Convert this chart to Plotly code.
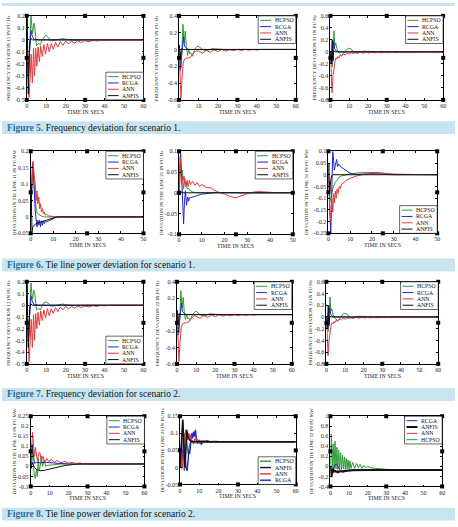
import plotly.graph_objects as go

# ---------------- DATA ----------------
NAMES = ["HCPSO", "RCGA", "ANN", "ANFIS"]

P1_HCPSO_T = [0, 0.5, 1.0, 1.5, 2.2, 2.6, 3.0, 3.7, 4.2, 5.0, 6.0, 7.0, 8.0, 9.8, 11.0, 12.7, 15.0, 18.6, 22.0, 25.0, 30.0, 60.0]
P1_HCPSO_Y = [0, -0.15, -0.3, -0.05, 0.2, 0.12, 0.05, 0.14, 0.1, -0.05, -0.03, -0.04, 0.0, 0.04, 0.02, -0.01, 0.0, 0.01, 0.0, -0.003, 0.0, 0.0]
P1_RCGA_T = [0, 0.4, 0.85, 1.4, 2.2, 2.7, 3.2, 3.8, 4.5, 6.0, 60.0]
P1_RCGA_Y = [0, -0.2, -0.33, -0.1, 0.08, 0.04, 0.02, 0.0, 0.005, 0.0, 0.0]
P1_ANN_T = [0, 0.6, 1.2, 1.8, 2.3, 2.9, 3.5, 4.0, 4.6, 5.2, 5.8, 6.5, 7.2, 8.0, 8.8, 9.7, 10.6, 11.6, 12.6, 13.7, 14.8, 16.0, 17.3, 18.6, 20.0, 21.5, 23.0, 24.6, 26.2, 28.0, 30.0, 32.0, 34.0, 36.0, 38.0, 40.0, 43.0, 60.0]
P1_ANN_Y = [0, -0.3, -0.48, -0.3, -0.12, -0.36, -0.07, -0.3, -0.07, -0.22, -0.06, -0.18, -0.05, -0.14, -0.04, -0.12, -0.03, -0.1, -0.03, -0.08, -0.02, -0.06, -0.015, -0.045, -0.01, -0.035, -0.01, -0.028, -0.008, -0.022, -0.006, -0.016, -0.004, -0.01, -0.002, -0.005, 0.0, 0.0]
P1_ANFIS_T = [0, 0.25, 0.5, 0.8, 1.2, 1.6, 2.2, 3.0, 60.0]
P1_ANFIS_Y = [0, 0.18, -0.1, -0.45, -0.2, -0.02, 0.01, 0.0, 0.0]

P2_HCPSO_T = [0, 0.5, 1.0, 1.5, 2.0, 2.6, 3.2, 3.8, 4.4, 5.0, 5.5, 6.0, 7.0, 8.0, 9.0, 9.9, 11.0, 12.0, 13.5, 15.0, 17.0, 19.0, 22.0, 25.0, 30.0, 60.0]
P2_HCPSO_Y = [0, -0.1, -0.22, 0.0, 0.3, 0.08, 0.22, 0.02, -0.07, 0.0, -0.05, -0.04, -0.08, 0.0, 0.03, 0.04, 0.02, 0.0, -0.015, -0.01, 0.01, 0.005, 0.0, -0.005, 0.0, 0.0]
P2_RCGA_T = [0, 0.3, 0.6, 1.2, 1.8, 2.3, 2.8, 3.4, 4.0, 5.0, 60.0]
P2_RCGA_Y = [0, -0.15, -0.25, -0.1, 0.1, 0.15, 0.04, 0.02, 0.01, 0.0, 0.0]
P2_ANN_T = [0, 0.4, 1.0, 1.5, 2.2, 3.0, 4.0, 5.0, 6.0, 7.0, 8.0, 9.0, 10.0, 12.0, 14.0, 16.0, 18.0, 20.0, 22.0, 24.0, 26.0, 28.0, 30.0, 32.0, 34.0, 36.0, 38.0, 40.0, 42.0, 44.0, 46.0, 60.0]
P2_ANN_Y = [0, -0.3, -0.58, -0.35, -0.15, -0.11, -0.1, -0.1, -0.09, -0.05, -0.03, -0.015, -0.02, -0.045, -0.01, -0.035, -0.005, -0.025, 0.0, -0.02, 0.0, -0.015, 0.0, -0.012, 0.0, -0.008, 0.0, -0.006, 0.0, -0.004, 0.0, 0.0]
P2_ANFIS_T = [0, 0.2, 0.5, 0.8, 1.2, 2.0, 60.0]
P2_ANFIS_Y = [0, 0.05, -0.1, -0.04, 0.01, 0.0, 0.0]

P3_HCPSO_T = [0, 0.5, 1.0, 1.5, 1.9, 2.4, 2.9, 3.5, 4.0, 5.0, 6.0, 7.0, 8.0, 9.0, 9.7, 11.0, 12.0, 13.0, 15.0, 17.0, 19.0, 22.0, 25.0, 60.0]
P3_HCPSO_Y = [0, -0.1, -0.25, 0.05, 0.35, 0.1, 0.15, 0.05, 0.0, -0.03, -0.06, -0.02, 0.02, 0.05, 0.06, 0.05, 0.01, -0.02, -0.01, 0.01, 0.01, 0.0, 0.0, 0.0]
P3_RCGA_T = [0, 0.4, 0.8, 1.3, 1.8, 2.3, 3.0, 3.5, 4.0, 5.0, 60.0]
P3_RCGA_Y = [0, -0.1, -0.2, 0.0, 0.17, 0.05, 0.02, 0.0, 0.01, 0.0, 0.0]
P3_ANN_T = [0, 0.4, 0.9, 1.4, 2.0, 2.5, 3.0, 3.5, 4.0, 4.5, 5.0, 6.0, 7.0, 8.0, 9.0, 10.0, 11.0, 12.0, 13.0, 14.5, 16.0, 17.5, 19.0, 20.5, 22.0, 23.5, 25.0, 27.0, 29.0, 31.0, 33.0, 35.0, 37.0, 39.0, 41.0, 43.0, 45.0, 47.0, 49.0, 51.0, 53.0, 55.0, 57.0, 60.0]
P3_ANN_Y = [0, -0.35, -0.68, -0.4, -0.2, -0.15, -0.1, -0.12, -0.08, -0.1, -0.06, -0.07, -0.04, -0.05, -0.02, -0.04, -0.01, -0.03, -0.005, -0.025, -0.005, -0.022, -0.004, -0.02, -0.004, -0.018, -0.003, -0.016, -0.003, -0.014, -0.002, -0.012, -0.002, -0.01, -0.002, -0.009, -0.001, -0.008, -0.001, -0.007, -0.001, -0.006, -0.001, -0.003]
P3_ANFIS_T = [0, 0.3, 0.6, 1.0, 1.4, 1.8, 2.5, 60.0]
P3_ANFIS_Y = [0, -0.2, -0.05, 0.2, -0.15, 0.02, 0.0, 0.0]

P4_HCPSO_T = [0, 0.3, 0.7, 1.0, 1.5, 2.0, 2.5, 3.0, 4.0, 5.0, 6.0, 50.0]
P4_HCPSO_Y = [0, 0.05, 0.14, 0.165, 0.1, 0.05, 0.02, 0.01, 0.005, 0.002, 0.0, 0.0]
P4_RCGA_T = [0, 0.4, 0.8, 1.2, 1.6, 2.0, 2.4, 2.8, 3.2, 3.6, 4.0, 4.4, 4.8, 5.2, 5.6, 6.0, 6.5, 7.0, 8.0, 9.0, 10.0, 11.0, 12.0, 50.0]
P4_RCGA_Y = [0, 0.08, 0.165, 0.14, 0.07, 0.02, -0.005, -0.03, -0.01, -0.025, -0.01, -0.03, -0.012, -0.025, -0.012, -0.02, -0.012, -0.015, -0.012, -0.008, -0.005, -0.002, 0.0, 0.0]
P4_ANN_T = [0, 0.5, 1.0, 1.5, 2.0, 2.4, 2.8, 3.2, 3.6, 4.0, 4.4, 4.8, 5.2, 5.6, 6.0, 6.5, 7.0, 8.0, 9.0, 10.0, 12.0, 50.0]
P4_ANN_Y = [0, 0.1, 0.17, 0.13, 0.1, 0.05, 0.08, 0.04, 0.06, 0.025, 0.04, 0.015, 0.025, 0.01, 0.015, 0.005, 0.008, 0.003, 0.002, 0.0, 0.0, 0.0]
P4_ANFIS_T = [0, 0.2, 0.4, 0.6, 1.0, 2.0, 4.0, 6.0, 8.0, 10.0, 12.0, 50.0]
P4_ANFIS_Y = [0.0, 0.1, 0.02, -0.045, -0.03, -0.022, -0.017, -0.012, -0.007, -0.003, 0.0, 0.0]

P5_HCPSO_T = [0, 0.3, 0.6, 1.0, 1.4, 1.8, 2.2, 2.6, 3.0, 3.5, 4.0, 5.0, 6.0, 8.0, 50.0]
P5_HCPSO_Y = [0, 0.05, 0.09, 0.04, 0.055, 0.03, 0.04, 0.02, 0.025, 0.01, 0.012, 0.005, 0.002, 0.0, 0.0]
P5_RCGA_T = [0, 0.4, 0.7, 1.2, 1.6, 2.0, 2.4, 2.8, 3.3, 3.8, 4.2, 4.6, 5.0, 6.0, 7.0, 8.0, 10.0, 12.0, 14.0, 16.0, 28.0, 50.0]
P5_RCGA_Y = [0, 0.06, 0.095, 0.03, -0.02, -0.075, -0.02, 0.005, -0.03, -0.01, -0.02, -0.012, -0.012, -0.01, -0.008, -0.006, -0.003, -0.002, 0.0, 0.001, 0.0, 0.0]
P5_ANN_T = [0, 0.5, 1.0, 1.5, 2.0, 2.5, 3.0, 3.5, 4.0, 4.5, 5.0, 6.0, 7.0, 8.0, 9.0, 10.0, 12.0, 14.0, 15.0, 17.0, 20.0, 22.0, 25.0, 27.0, 30.0, 33.0, 35.0, 38.0, 40.0, 43.0]
P5_ANN_Y = [0, 0.085, 0.02, 0.04, 0.01, 0.035, 0.015, 0.03, 0.015, 0.03, 0.02, 0.028, 0.018, 0.025, 0.015, 0.02, 0.013, 0.012, 0.008, 0.002, -0.003, -0.008, -0.012, -0.008, -0.002, 0.002, 0.003, 0.002, 0.001, 0.0]
P5_ANFIS_T = [0, 0.3, 0.8, 1.5, 50.0]
P5_ANFIS_Y = [0, -0.005, 0.003, 0.0, 0.0]

P6_HCPSO_T = [0, 0.3, 0.6, 1.0, 1.5, 2.0, 3.0, 4.0, 5.0, 6.0, 8.0, 10.0, 14.0, 18.0, 22.0, 26.0, 30.0, 50.0]
P6_HCPSO_Y = [0, -0.06, -0.12, -0.1, -0.08, -0.06, -0.035, -0.02, -0.01, -0.005, 0.0, 0.003, 0.008, 0.01, 0.01, 0.005, 0.002, 0.0]
P6_RCGA_T = [0, 0.4, 0.8, 1.1, 1.6, 2.0, 2.4, 2.7, 3.2, 3.8, 4.2, 4.8, 5.5, 6.5, 7.5, 8.5, 9.5, 11.0, 13.0, 15.0, 20.0, 25.0, 30.0, 50.0]
P6_RCGA_Y = [0, -0.1, -0.2, -0.25, -0.05, 0.1, 0.06, 0.02, 0.04, 0.065, 0.035, 0.045, 0.035, 0.028, 0.02, 0.014, 0.009, 0.004, 0.001, 0.002, 0.005, 0.003, 0.0, 0.0]
P6_ANN_T = [0, 0.4, 0.9, 1.2, 1.6, 2.0, 2.4, 2.8, 3.2, 3.6, 4.0, 4.5, 5.0, 5.5, 6.0, 7.0, 8.0, 9.0, 10.0, 12.0, 14.0, 16.0, 18.0, 20.0, 22.0, 25.0, 28.0, 30.0, 50.0]
P6_ANN_Y = [0, -0.1, -0.2, -0.17, -0.1, -0.16, -0.08, -0.12, -0.07, -0.1, -0.06, -0.08, -0.05, -0.06, -0.04, -0.035, -0.025, -0.02, -0.015, -0.008, -0.003, 0.002, 0.006, 0.009, 0.009, 0.007, 0.004, 0.002, 0.0]
P6_ANFIS_T = [0, 0.2, 0.4, 0.7, 1.0, 1.5, 2.0, 50.0]
P6_ANFIS_Y = [0, 0.05, -0.02, -0.07, -0.03, -0.005, 0.0, 0.0]

P7_HCPSO_T = [0, 0.5, 1.0, 1.5, 2.2, 2.6, 3.0, 3.6, 4.2, 5.0, 6.0, 7.0, 8.0, 9.4, 11.0, 12.7, 15.0, 18.5, 22.0, 25.0, 30.0, 60.0]
P7_HCPSO_Y = [0, -0.15, -0.32, -0.05, 0.19, 0.1, 0.05, 0.13, 0.09, -0.04, -0.03, -0.04, 0.0, 0.03, 0.02, -0.01, 0.0, 0.01, 0.0, -0.003, 0.0, 0.0]
P7_RCGA_T = [0, 0.4, 0.85, 1.4, 2.2, 2.7, 3.2, 3.8, 4.5, 6.0, 60.0]
P7_RCGA_Y = [0, -0.2, -0.3, -0.1, 0.08, 0.04, 0.02, 0.0, 0.005, 0.0, 0.0]
P7_ANN_T = [0, 0.6, 1.2, 1.8, 2.3, 2.9, 3.5, 4.0, 4.6, 5.2, 5.8, 6.5, 7.2, 8.0, 8.8, 9.7, 10.6, 11.6, 12.6, 13.7, 14.8, 16.0, 17.3, 18.6, 20.0, 21.5, 23.0, 24.6, 26.2, 28.0, 30.0, 32.0, 34.0, 36.0, 38.0, 40.0, 43.0, 60.0]
P7_ANN_Y = [0, -0.3, -0.48, -0.3, -0.12, -0.36, -0.08, -0.3, -0.07, -0.2, -0.06, -0.17, -0.05, -0.13, -0.04, -0.11, -0.03, -0.09, -0.03, -0.07, -0.02, -0.055, -0.015, -0.04, -0.01, -0.03, -0.01, -0.025, -0.008, -0.02, -0.006, -0.015, -0.004, -0.01, -0.002, -0.005, 0.0, 0.0]
P7_ANFIS_T = [0, 0.25, 0.5, 0.8, 1.2, 1.6, 2.2, 3.0, 60.0]
P7_ANFIS_Y = [0, 0.18, -0.1, -0.36, -0.2, -0.02, 0.01, 0.0, 0.0]

P8_HCPSO_T = [0, 0.5, 1.0, 1.5, 2.0, 2.6, 3.2, 3.8, 4.4, 5.0, 5.5, 6.0, 7.0, 8.0, 9.0, 9.9, 11.0, 12.0, 13.5, 15.0, 17.0, 19.0, 22.0, 25.0, 30.0, 60.0]
P8_HCPSO_Y = [0, -0.1, -0.22, 0.0, 0.29, 0.08, 0.21, 0.02, -0.06, 0.0, -0.05, -0.04, -0.07, 0.0, 0.03, 0.045, 0.02, 0.0, -0.015, -0.01, 0.01, 0.005, 0.0, -0.005, 0.0, 0.0]
P8_RCGA_T = [0, 0.3, 0.6, 1.2, 1.8, 2.3, 2.8, 3.4, 4.0, 5.0, 60.0]
P8_RCGA_Y = [0, -0.15, -0.25, -0.1, 0.1, 0.14, 0.04, 0.02, 0.01, 0.0, 0.0]
P8_ANN_T = [0, 0.4, 1.0, 1.5, 2.2, 3.0, 4.0, 5.0, 6.0, 7.0, 8.0, 9.0, 10.0, 12.0, 14.0, 16.0, 18.0, 20.0, 22.0, 24.0, 26.0, 28.0, 30.0, 32.0, 34.0, 36.0, 38.0, 40.0, 42.0, 44.0, 46.0, 60.0]
P8_ANN_Y = [0, -0.3, -0.57, -0.35, -0.15, -0.11, -0.1, -0.1, -0.09, -0.05, -0.03, -0.015, -0.02, -0.045, -0.01, -0.035, -0.005, -0.025, 0.0, -0.02, 0.0, -0.015, 0.0, -0.012, 0.0, -0.008, 0.0, -0.006, 0.0, -0.004, 0.0, 0.0]
P8_ANFIS_T = [0, 0.2, 0.5, 0.8, 1.2, 2.0, 60.0]
P8_ANFIS_Y = [0, 0.05, -0.1, -0.04, 0.01, 0.0, 0.0]

P9_HCPSO_T = [0, 0.5, 1.0, 1.5, 1.9, 2.4, 2.9, 3.5, 4.0, 5.0, 6.0, 7.0, 8.0, 9.0, 9.7, 11.0, 12.0, 13.0, 15.0, 17.0, 19.0, 22.0, 25.0, 60.0]
P9_HCPSO_Y = [0, -0.1, -0.25, 0.05, 0.34, 0.1, 0.14, 0.05, 0.0, -0.03, -0.07, -0.03, 0.02, 0.05, 0.06, 0.05, 0.01, -0.02, -0.01, 0.01, 0.01, 0.0, 0.0, 0.0]
P9_RCGA_T = [0, 0.4, 0.8, 1.3, 1.8, 2.3, 3.0, 3.5, 4.0, 5.0, 60.0]
P9_RCGA_Y = [0, -0.1, -0.2, 0.0, 0.16, 0.05, 0.02, 0.0, 0.01, 0.0, 0.0]
P9_ANN_T = [0, 0.4, 0.9, 1.4, 2.0, 2.5, 3.0, 3.5, 4.0, 4.5, 5.0, 6.0, 7.0, 8.0, 9.0, 10.0, 11.0, 12.0, 13.0, 14.5, 16.0, 17.5, 19.0, 20.5, 22.0, 23.5, 25.0, 27.0, 29.0, 31.0, 33.0, 35.0, 37.0, 39.0, 41.0, 43.0, 45.0, 47.0, 49.0, 51.0, 53.0, 55.0, 57.0, 60.0]
P9_ANN_Y = [0, -0.35, -0.66, -0.4, -0.2, -0.15, -0.1, -0.12, -0.08, -0.1, -0.06, -0.07, -0.04, -0.05, -0.02, -0.04, -0.01, -0.03, -0.005, -0.025, -0.005, -0.022, -0.004, -0.02, -0.004, -0.018, -0.003, -0.016, -0.003, -0.014, -0.002, -0.012, -0.002, -0.01, -0.002, -0.009, -0.001, -0.008, -0.001, -0.007, -0.001, -0.006, -0.001, -0.003]
P9_ANFIS_T = [0, 0.3, 0.6, 1.0, 1.4, 1.8, 2.5, 60.0]
P9_ANFIS_Y = [0, -0.2, -0.05, 0.2, -0.15, 0.02, 0.0, 0.0]

P10_HCPSO_T = [0, 0.3, 0.7, 1.0, 1.5, 2.0, 2.5, 3.0, 3.5, 4.0, 4.5, 5.0, 5.7, 6.3, 7.0, 8.0, 9.0, 10.0, 12.0, 14.0, 16.0, 20.0, 60.0]
P10_HCPSO_Y = [0, 0.05, 0.11, 0.05, -0.02, -0.05, -0.06, -0.02, -0.05, 0.04, -0.02, 0.0, 0.05, 0.0, 0.03, 0.0, 0.005, 0.005, 0.008, 0.01, 0.012, 0.012, 0.012]
P10_RCGA_T = [0, 0.3, 0.8, 1.1, 1.5, 2.0, 3.0, 5.0, 8.0, 12.0, 16.0, 20.0, 60.0]
P10_RCGA_Y = [0, 0.05, 0.11, 0.08, 0.03, 0.015, 0.02, 0.018, 0.02, 0.016, 0.014, 0.012, 0.012]
P10_ANN_T = [0, 0.5, 1.0, 1.5, 2.0, 2.5, 3.0, 3.5, 4.5, 5.0, 5.5, 6.5, 7.5, 8.5, 9.5, 11.0, 12.5, 14.0, 16.0, 18.0, 20.0, 22.0, 24.0, 26.0, 28.0, 30.0, 60.0]
P10_ANN_Y = [0, 0.1, 0.17, 0.1, 0.05, 0.095, 0.05, 0.03, 0.07, 0.065, 0.025, 0.05, 0.02, 0.04, 0.025, 0.035, 0.02, 0.03, 0.018, 0.025, 0.016, 0.02, 0.014, 0.017, 0.013, 0.013, 0.012]
P10_ANFIS_T = [0, 0.3, 0.7, 1.2, 2.0, 3.0, 5.0, 7.0, 9.0, 12.0, 15.0, 18.0, 22.0, 26.0, 60.0]
P10_ANFIS_Y = [0, -0.01, 0.02, 0.01, -0.005, -0.015, -0.022, -0.02, -0.015, -0.008, -0.002, 0.004, 0.009, 0.012, 0.012]

P11_HCPSO_T = [0, 0.5, 1.0, 1.3, 2.2, 2.7, 3.2, 3.7, 4.2, 5.0, 6.0, 7.0, 8.0, 9.0, 10.0, 12.0, 14.0, 16.0, 20.0, 60.0]
P11_HCPSO_Y = [0, 0.05, 0.1, 0.14, -0.01, 0.02, 0.09, 0.06, 0.04, 0.065, 0.08, 0.07, 0.075, 0.08, 0.072, 0.078, 0.074, 0.076, 0.075, 0.075]
P11_RCGA_T = [0, 0.5, 1.0, 1.5, 2.0, 2.5, 3.0, 3.7, 4.2, 4.6, 5.0, 5.5, 6.0, 6.5, 7.0, 7.5, 8.0, 8.5, 9.0, 10.0, 11.0, 12.0, 14.0, 16.0, 18.0, 20.0, 60.0]
P11_RCGA_Y = [0, 0.04, 0.0, 0.06, 0.1, 0.06, 0.0, -0.01, 0.02, 0.05, 0.04, 0.08, 0.1, 0.085, 0.105, 0.09, 0.11, 0.08, 0.07, 0.08, 0.068, 0.075, 0.078, 0.074, 0.076, 0.075, 0.075]
P11_ANN_T = [0, 0.5, 1.0, 1.5, 2.0, 2.5, 3.0, 3.5, 4.0, 4.5, 5.0, 5.5, 6.0, 7.0, 8.0, 9.0, 10.0, 11.0, 12.0, 14.0, 16.0, 60.0]
P11_ANN_Y = [0, 0.05, -0.005, 0.03, 0.07, 0.09, 0.11, 0.09, 0.08, 0.1, 0.085, 0.095, 0.08, 0.075, 0.085, 0.08, 0.072, 0.078, 0.074, 0.076, 0.075, 0.075]
P11_ANFIS_T = [0, 0.5, 1.0, 1.5, 2.0, 2.5, 3.0, 3.5, 4.0, 5.0, 6.0, 8.0, 10.0, 60.0]
P11_ANFIS_Y = [0, 0.06, 0.1, 0.14, 0.06, 0.0, 0.05, 0.11, 0.09, 0.08, 0.075, 0.076, 0.075, 0.075]

P12_HCPSO_T = [0, 0.5, 1.0, 1.5, 2.0, 2.5, 3.0, 3.5, 4.0, 4.5, 5.0, 5.5, 6.0, 6.5, 7.0, 7.5, 8.0, 8.5, 9.0, 9.5, 10.0, 10.5, 11.0, 12.0, 13.0, 14.0, 15.0, 16.0, 17.0, 18.0, 19.0, 20.0, 22.0, 24.0, 26.0, 28.0, 30.0, 35.0, 40.0, 60.0]
P12_HCPSO_Y = [0, 0.65, -0.05, 0.45, -0.05, 0.5, -0.05, 0.38, -0.06, 0.32, -0.05, 0.27, -0.06, 0.22, -0.05, 0.19, -0.06, 0.16, -0.05, 0.13, -0.05, 0.11, -0.04, 0.08, -0.04, 0.06, -0.03, 0.04, -0.04, 0.02, -0.03, 0.0, -0.03, -0.04, -0.05, -0.055, -0.06, -0.065, -0.07, -0.07]
P12_RCGA_T = [0, 0.5, 1.0, 1.5, 2.0, 2.5, 3.2, 3.8, 4.5, 5.5, 6.7, 7.5, 8.5, 9.5, 11.0, 13.0, 16.0, 60.0]
P12_RCGA_Y = [0, -0.12, -0.1, -0.05, 0.0, 0.03, 0.05, 0.02, -0.03, -0.09, -0.12, -0.11, -0.09, -0.08, -0.07, -0.07, -0.07, -0.07]
P12_ANN_T = [0, 0.4, 0.8, 1.2, 1.6, 2.0, 3.0, 4.0, 5.0, 6.0, 8.0, 10.0, 15.0, 20.0, 60.0]
P12_ANN_Y = [0, -0.15, -0.22, -0.15, -0.1, -0.12, -0.1, -0.08, -0.1, -0.09, -0.08, -0.075, -0.07, -0.07, -0.07]
P12_ANFIS_T = [0, 0.3, 0.6, 1.0, 1.5, 2.0, 3.0, 4.0, 5.0, 7.0, 9.0, 12.0, 20.0, 60.0]
P12_ANFIS_Y = [0, -0.15, -0.2, -0.05, -0.12, -0.08, -0.1, -0.12, -0.1, -0.09, -0.08, -0.075, -0.07, -0.07]

X_TICKS_60 = [0, 10, 20, 30, 40, 50, 60]
X_TICKS_50 = [0, 10, 20, 30, 40, 50]
Y_TICKS = [
    [-0.5, -0.4, -0.3, -0.2, -0.1, 0, 0.1, 0.2],
    [-0.6, -0.4, -0.2, 0, 0.2, 0.4],
    [-0.8, -0.6, -0.4, -0.2, 0, 0.2, 0.4, 0.6],
    [-0.05, 0, 0.05, 0.1, 0.15, 0.2],
    [-0.1, -0.05, 0, 0.05, 0.1],
    [-0.25, -0.2, -0.15, -0.1, -0.05, 0, 0.05, 0.1],
    [-0.5, -0.4, -0.3, -0.2, -0.1, 0, 0.1, 0.2],
    [-0.6, -0.4, -0.2, 0, 0.2, 0.4],
    [-0.8, -0.6, -0.4, -0.2, 0, 0.2, 0.4, 0.6],
    [-0.1, -0.05, 0, 0.05, 0.1, 0.15, 0.2, 0.25],
    [-0.05, 0, 0.05, 0.1, 0.15],
    [-0.4, -0.2, 0, 0.2, 0.4, 0.6, 0.8, 1],
]
X_TICKS = [X_TICKS_60, X_TICKS_60, X_TICKS_60, X_TICKS_50, X_TICKS_50, X_TICKS_50,
           X_TICKS_60, X_TICKS_60, X_TICKS_60, X_TICKS_60, X_TICKS_60, X_TICKS_60]
Y_TITLES = [
    "FREQUENCY DEVIATION 11 IN PU Hz", "FREQUENCY DEVIATION 21 IN PU Hz", "FREQUENCY DEVIATION 31 IN PU Hz",
    "DEVIATION IN TIE LINE 11 IN PU MW", "DEVIATION IN THE LINE 21 IN PU Hz", "DEVIATION IN TIE LINE 31 IN PU MW",
    "FREQUENCY DEVIATION 12 IN PU Hz", "FREQUENCY DEVIATION 22 IN PU Hz", "FREQUENCY DEVIATION 32 IN PU Hz",
    "DEVIATION IN TIE LINE 12 IN PU MW", "DEVIATION IN THE LINE 22 IN PU Hz", "DEVIATION IN TIE LINE 32 IN PU MW",
]
X_TITLE = "TIME IN SECS"
LEGEND_ORDER = [NAMES] * 10 + [["HCPSO", "ANFIS", "ANN", "RCGA"], ["RCGA", "ANFIS", "ANN", "HCPSO"]]
CAPTIONS = [
    ("Figure 5.", " Frequency deviation for scenario 1."),
    ("Figure 6.", " Tie line power deviation for scenario 1."),
    ("Figure 7.", " Frequency deviation for scenario 2."),
    ("Figure 8.", " Tie line power deviation for scenario 2."),
]

G = globals()
SERIES = [[(n, G[f"P{k}_{n}_T"], G[f"P{k}_{n}_Y"]) for n in NAMES] for k in range(1, 13)]

# ---------------- LAYOUT / STYLE ----------------
W, H = 458, 527
FONT = "Liberation Serif, Times New Roman, serif"
COL = {"HCPSO": "#2e9a36", "RCGA": "#2424cc", "ANN": "#e5383b", "ANFIS": "#111111"}
BOXES = [(25, 143, 13, 98), (179, 297, 13, 98), (332, 446, 13, 98),
         (29, 143, 150, 233), (179, 294, 150, 234), (330, 440, 150, 233),
         (25, 143, 282, 365), (177, 293, 282, 365), (328, 441, 282, 365),
         (29, 144, 418, 489), (180, 297, 418, 487), (332, 445, 418, 489)]
YT_X = [7, 157, 316, 12, 162, 308, 7, 158, 312, 12, 162, 313]
LEG_CORNER = ["br", "tr", "tr", "tr", "tr", "br", "br", "tr", "tr", "tr", "br", "tr"]
CAP_Y = [126, 265, 396, 517]


def fx(px):
    return px / W


def fy(py):
    return 1 - py / H


def fmt(v):
    return "%g" % v


fig = go.Figure()
shapes, annos, lay = [], [], {}

# caption bands
shapes.append(dict(type="rect", xref="paper", yref="paper", x0=0, x1=1, y0=fy(3), y1=1,
                   fillcolor="#c8e5ef", line=dict(width=0), layer="below"))
for cy, (a, b) in zip(CAP_Y, CAPTIONS):
    shapes.append(dict(type="rect", xref="paper", yref="paper", x0=0, x1=1, y0=fy(cy + 6.5), y1=fy(cy - 6.5),
                       fillcolor="#c8e5ef", line=dict(width=0), layer="below"))
    annos.append(dict(xref="paper", yref="paper", x=fx(3), y=fy(cy), xanchor="left", yanchor="middle",
                      showarrow=False, font=dict(family=FONT, size=9.5, color="#111"),
                      text=f"<b><span style='color:#1f6fa3'>{a}</span></b>{b}"))

for i in range(12):
    k = i + 1
    l, r, t, b = BOXES[i]
    xs = "" if k == 1 else str(k)
    xmax = X_TICKS[i][-1]
    yt = Y_TICKS[i]
    ymin, ymax = yt[0], yt[-1]
    common = dict(showline=True, linecolor="black", linewidth=0.8, mirror="allticks", ticks="inside",
                  ticklen=2, tickwidth=0.6, tickcolor="black", showgrid=False, zeroline=False,
                  tickfont=dict(family=FONT, size=6, color="#222"))
    lay["xaxis" + xs] = dict(domain=[fx(l), fx(r)], anchor="y" + xs, range=[0, xmax],
                             tickvals=X_TICKS[i], ticktext=[fmt(v) for v in X_TICKS[i]], **common)
    lay["yaxis" + xs] = dict(domain=[fy(b), fy(t)], anchor="x" + xs, range=[ymin, ymax],
                             tickvals=yt, ticktext=[fmt(v) for v in yt], **common)
    wid = {"HCPSO": 1.0, "RCGA": 1.0, "ANN": 1.0, "ANFIS": 1.0}
    if k == 11:
        wid = {n: 1.4 for n in NAMES}
    if k == 12:
        wid["ANFIS"] = 2.0
    for name, tt, yy in SERIES[i]:
        fig.add_trace(go.Scatter(x=tt, y=yy, mode="lines", xaxis="x" + xs, yaxis="y" + xs,
                                 line=dict(color=COL[name], width=wid[name]), showlegend=False,
                                 hoverinfo="skip"))
    # selection handles
    xm, ym = xmax / 2, (ymin + ymax) / 2
    hx = [0, xm, xmax, 0, xmax, 0, xm, xmax]
    hy = [ymax, ymax, ymax, ym, ym, ymin, ymin, ymin]
    fig.add_trace(go.Scatter(x=hx, y=hy, mode="markers", xaxis="x" + xs, yaxis="y" + xs, cliponaxis=False,
                             marker=dict(symbol="square", size=4, color="black"), showlegend=False,
                             hoverinfo="skip"))
    # axis titles
    annos.append(dict(xref="paper", yref="paper", x=fx(YT_X[i]), y=fy((t + b) / 2), textangle=-90,
                      xanchor="center", yanchor="middle", showarrow=False,
                      font=dict(family=FONT, size=5, color="#222"), text=Y_TITLES[i]))
    annos.append(dict(xref="paper", yref="paper", x=fx((l + r) / 2), y=fy(b + 12), xanchor="center",
                      yanchor="middle", showarrow=False, font=dict(family=FONT, size=5.8, color="#222"),
                      text=X_TITLE))
    # legend box
    lw_, lh_ = 38, 28
    x1 = r
    x0 = r - lw_
    if LEG_CORNER[i] == "tr":
        y0, y1 = t, t + lh_
    else:
        y0, y1 = b - lh_, b
    shapes.append(dict(type="rect", xref="paper", yref="paper", x0=fx(x0), x1=fx(x1), y0=fy(y1), y1=fy(y0),
                       fillcolor="white", line=dict(color="black", width=0.6), layer="above"))
    for j, name in enumerate(LEGEND_ORDER[i]):
        ry = y0 + 4.5 + j * 6.4
        shapes.append(dict(type="line", xref="paper", yref="paper", x0=fx(x0 + 2), x1=fx(x0 + 13),
                           y0=fy(ry), y1=fy(ry), line=dict(color=COL[name], width=wid[name]), layer="above"))
        annos.append(dict(xref="paper", yref="paper", x=fx(x0 + 14.5), y=fy(ry), xanchor="left",
                          yanchor="middle", showarrow=False, font=dict(family=FONT, size=5.8, color="#111"),
                          text=name))

fig.update_layout(width=W, height=H, margin=dict(l=0, r=0, t=0, b=0), paper_bgcolor="white",
                  plot_bgcolor="white", showlegend=False, shapes=shapes, annotations=annos, **lay)
fig.write_html("out.html")
